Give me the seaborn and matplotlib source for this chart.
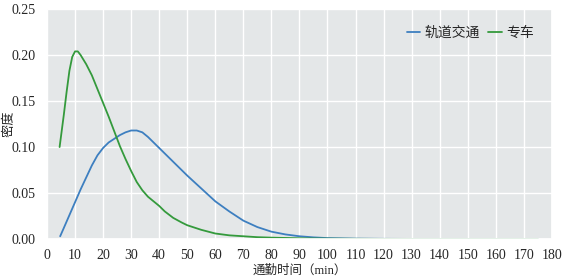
import matplotlib
matplotlib.use("Agg")
import matplotlib.pyplot as plt
import seaborn as sns
import pandas as pd

rail_x = [4.7, 6, 8, 10, 12, 14, 16, 18, 20, 22, 24, 26, 28, 30, 32, 34, 36, 38, 40,
          45, 50, 55, 60, 65, 70, 75, 80, 85, 90, 95, 100, 110, 120, 130, 140, 150, 160, 170, 175]
rail_y = [0.003, 0.012, 0.026, 0.040, 0.054, 0.067, 0.080, 0.091, 0.099, 0.105, 0.109,
          0.113, 0.116, 0.118, 0.118, 0.116, 0.111, 0.105, 0.099,
          0.084, 0.069, 0.055, 0.041, 0.030, 0.020, 0.013, 0.008, 0.005, 0.003, 0.0018,
          0.001, 0.0004, 0.0002, 0.0001, 0.0, 0.0, 0.0, 0.0, 0.0]

car_x = [4.5, 6, 7, 8, 9, 10, 11, 12, 14, 16, 18, 20, 22, 24, 26, 28, 30, 32, 34, 36, 38,
         40, 42, 45, 48, 50, 55, 60, 65, 70, 75, 80, 90, 100, 110, 120, 130, 140, 150,
         160, 170, 175]
car_y = [0.100, 0.135, 0.160, 0.183, 0.198, 0.204, 0.204, 0.200, 0.190, 0.178, 0.163,
         0.148, 0.133, 0.117, 0.101, 0.087, 0.074, 0.062, 0.053, 0.046, 0.041,
         0.036, 0.030, 0.023, 0.018, 0.015, 0.010, 0.006, 0.004, 0.003, 0.002, 0.0015,
         0.0008, 0.0004, 0.0002, 0.0001, 0.0, 0.0, 0.0, 0.0, 0.0, 0.0]

series_names = ["轨道交通", "专车"]
x_ticks = list(range(0, 181, 10))
y_ticks = [0.00, 0.05, 0.10, 0.15, 0.20, 0.25]

df = pd.concat([
    pd.DataFrame({"x": rail_x, "y": rail_y, "s": series_names[0]}),
    pd.DataFrame({"x": car_x, "y": car_y, "s": series_names[1]}),
])

sns.set_theme(style="darkgrid", rc={"axes.facecolor": "#e4e7e8", "grid.color": "white"})
plt.rcParams["font.family"] = ["Liberation Serif", "Noto Sans CJK SC"]

fig = plt.figure(figsize=(5.66, 2.76), dpi=100)
ax = fig.add_axes([0.083, 0.134, 0.892, 0.833])
sns.lineplot(data=df, x="x", y="y", hue="s", palette=["#3d7fc0", "#349a3c"],
             linewidth=1.3, ax=ax)
ax.set_xlim(0, 180)
ax.set_ylim(0, 0.25)
ax.set_xticks(x_ticks)
ax.set_yticks(y_ticks)
ax.set_yticklabels([f"{v:.2f}" for v in y_ticks])
ax.tick_params(labelsize=10, pad=2)
ax.tick_params(axis="x", pad=1)
ax.set_xlabel("通勤时间（min）", fontsize=9)
ax.set_ylabel("密度", fontsize=9.5)
ax.xaxis.set_label_coords(0.5, -0.138)
ax.yaxis.set_label_coords(-0.075, 0.5)
ax.xaxis.label.set_va("center")
ax.yaxis.label.set_va("center")
leg = ax.legend(title=None, frameon=False, loc="upper right", fontsize=10,
                handlelength=1.0, handletextpad=0.3, columnspacing=0.6, ncol=2,
                bbox_to_anchor=(0.99, 0.98))
fig.savefig("out.png", dpi=100)
